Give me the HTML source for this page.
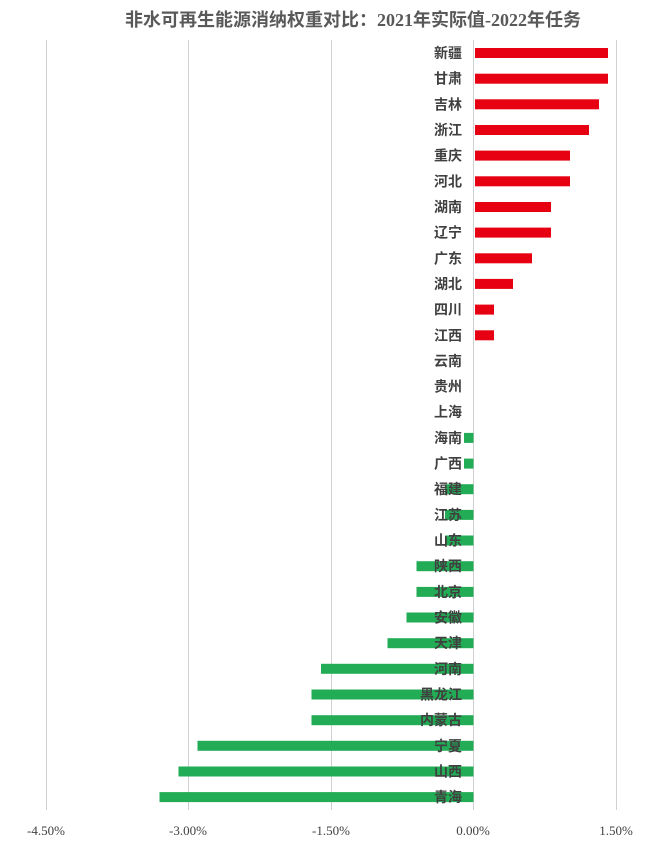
<!DOCTYPE html>
<html><head><meta charset="utf-8"><style>
body{margin:0;background:#fff}
svg{display:block}
text{font-family:"Liberation Sans","Noto Sans CJK SC",sans-serif}
.l{font-size:14px;font-weight:bold;fill:#404040;text-anchor:end}
.t{font-size:13px;fill:#404040;text-anchor:middle;font-family:"Liberation Serif","Noto Serif CJK SC",serif}
</style></head><body>
<svg width="660" height="851" viewBox="0 0 660 851">
<text x="353" y="26" text-anchor="middle" style="font-size:18px;font-weight:bold;fill:#595959;font-family:'Liberation Serif','Noto Sans CJK SC',serif">非水可再生能源消纳权重对比：2021年实际值-2022年任务</text>
<g stroke="#d0d0d0" stroke-width="1">
<line x1="46.5" y1="40" x2="46.5" y2="810"/><line x1="188.5" y1="40" x2="188.5" y2="810"/><line x1="331.5" y1="40" x2="331.5" y2="810"/><line x1="616.5" y1="40" x2="616.5" y2="810"/>
<line x1="473.5" y1="40" x2="473.5" y2="810"/>
</g>
<g fill="#e60012">
<rect x="475" y="48" width="133" height="10"/><rect x="475" y="73.7" width="133" height="10"/><rect x="475" y="99.3" width="124" height="10"/><rect x="475" y="125" width="114" height="10"/><rect x="475" y="150.6" width="95" height="10"/><rect x="475" y="176.3" width="95" height="10"/><rect x="475" y="202" width="76" height="10"/><rect x="475" y="227.6" width="76" height="10"/><rect x="475" y="253.3" width="57" height="10"/><rect x="475" y="278.9" width="38" height="10"/><rect x="475" y="304.6" width="19" height="10"/><rect x="475" y="330.3" width="19" height="10"/>
</g>
<g fill="#22ac55">
<rect x="464" y="432.9" width="9.5" height="10"/><rect x="464" y="458.6" width="9.5" height="10"/><rect x="445" y="484.2" width="28.5" height="10"/><rect x="445" y="509.9" width="28.5" height="10"/><rect x="445" y="535.5" width="28.5" height="10"/><rect x="416.5" y="561.2" width="57" height="10"/><rect x="416.5" y="586.9" width="57" height="10"/><rect x="406.5" y="612.5" width="67" height="10"/><rect x="387.5" y="638.2" width="86" height="10"/><rect x="321" y="663.8" width="152.5" height="10"/><rect x="311.5" y="689.5" width="162" height="10"/><rect x="311.5" y="715.2" width="162" height="10"/><rect x="197.5" y="740.8" width="276" height="10"/><rect x="178.5" y="766.5" width="295" height="10"/><rect x="159.5" y="792.1" width="314" height="10"/>
</g>
<g class="l">
<text class="l" x="462" y="58">新疆</text><text class="l" x="462" y="83.7">甘肃</text><text class="l" x="462" y="109.3">吉林</text><text class="l" x="462" y="135">浙江</text><text class="l" x="462" y="160.6">重庆</text><text class="l" x="462" y="186.3">河北</text><text class="l" x="462" y="212">湖南</text><text class="l" x="462" y="237.6">辽宁</text><text class="l" x="462" y="263.3">广东</text><text class="l" x="462" y="288.9">湖北</text><text class="l" x="462" y="314.6">四川</text><text class="l" x="462" y="340.3">江西</text><text class="l" x="462" y="365.9">云南</text><text class="l" x="462" y="391.6">贵州</text><text class="l" x="462" y="417.2">上海</text><text class="l" x="462" y="442.9">海南</text><text class="l" x="462" y="468.6">广西</text><text class="l" x="462" y="494.2">福建</text><text class="l" x="462" y="519.9">江苏</text><text class="l" x="462" y="545.5">山东</text><text class="l" x="462" y="571.2">陕西</text><text class="l" x="462" y="596.9">北京</text><text class="l" x="462" y="622.5">安徽</text><text class="l" x="462" y="648.2">天津</text><text class="l" x="462" y="673.8">河南</text><text class="l" x="462" y="699.5">黑龙江</text><text class="l" x="462" y="725.2">内蒙古</text><text class="l" x="462" y="750.8">宁夏</text><text class="l" x="462" y="776.5">山西</text><text class="l" x="462" y="802.1">青海</text>
</g>
<text class="t" x="46" y="835">-4.50%</text><text class="t" x="188" y="835">-3.00%</text><text class="t" x="331" y="835">-1.50%</text><text class="t" x="473" y="835">0.00%</text><text class="t" x="616" y="835">1.50%</text>
</svg>
</body></html>
